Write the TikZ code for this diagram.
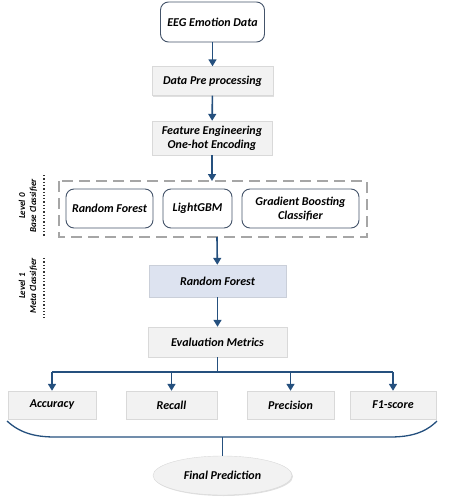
\documentclass[tikz,border=0pt]{standalone}
\usepackage{fontspec}
\setmainfont{Carlito}
\usepackage{tikz}
\usetikzlibrary{arrows.meta,shapes.geometric,shadows}

\definecolor{arrowblue}{HTML}{25507E}
\definecolor{boxgray}{HTML}{F2F2F2}
\definecolor{edgegray}{HTML}{D9D9D9}
\definecolor{metablue}{HTML}{DDE3F0}
\definecolor{roundedge}{HTML}{44546A}

\tikzset{
  flowarrow/.style={draw=arrowblue, line width=1.6pt, -{Triangle[width=8pt,length=7pt]}},
  flowline/.style={draw=arrowblue, line width=1.6pt},
  graybox/.style={draw=edgegray, fill=boxgray, thin, align=center,
    font=\bfseries\itshape\fontsize{12}{14}\selectfont,
    drop shadow={shadow xshift=1pt, shadow yshift=-1pt, opacity=0.25}},
  roundbox/.style={draw=roundedge, fill=white, line width=0.9pt, rounded corners=8pt,
    align=center, font=\bfseries\itshape\fontsize{12}{14}\selectfont},
  levellabel/.style={rotate=90, align=center, font=\bfseries\itshape\fontsize{9}{11}\selectfont}
}

\begin{document}
\begin{tikzpicture}[x=1pt, y=-1pt]
  \useasboundingbox (0,0) rectangle (474,501);

  % main pipeline
  \node[roundbox, minimum width=104pt, minimum height=40pt] (data) at (212.5,22) {EEG Emotion Data};
  \node[graybox, minimum width=121pt, minimum height=29pt] (pre) at (212.5,81) {Data Pre processing};
  \node[graybox, minimum width=120pt, minimum height=34pt] (feat) at (212,138) {Feature Engineering\\One-hot Encoding};

  % level 0 base classifiers
  \draw[gray!70, line width=1.4pt, dash pattern=on 11pt off 6pt] (59,181) rectangle (367,237);
  \coordinate (basetop) at (212,181);
  \coordinate (basebot) at (217,237);
  \node[roundbox, minimum width=87pt, minimum height=39pt] (rfbase) at (109.5,208.5) {Random Forest};
  \node[roundbox, minimum width=69pt, minimum height=39pt] (lgbm) at (197.5,208.5) {LightGBM};
  \node[roundbox, minimum width=117pt, minimum height=39pt] (gbc) at (300.5,208.5) {Gradient Boosting\\Classifier};

  % level 1 meta classifier
  \node[graybox, fill=metablue, draw=metablue!80!gray, minimum width=137pt, minimum height=32pt] (meta) at (217.5,281) {Random Forest};
  \node[graybox, minimum width=139pt, minimum height=30pt] (eval) at (217.5,342) {Evaluation Metrics};

  % metrics
  \node[graybox, minimum width=88pt, minimum height=28pt] (acc) at (52,405) {Accuracy};
  \node[graybox, minimum width=91pt, minimum height=28pt] (rec) at (171.5,405) {Recall};
  \node[graybox, minimum width=87pt, minimum height=28pt] (prec) at (290.5,405) {Precision};
  \node[graybox, minimum width=86pt, minimum height=28pt] (fone) at (393,405) {F1-score};

  \node[ellipse, draw=edgegray, fill=boxgray, minimum width=139pt, minimum height=39pt,
    font=\bfseries\itshape\fontsize{12}{14}\selectfont,
    drop shadow={shadow xshift=1pt, shadow yshift=-1pt, opacity=0.25}] (final) at (222.5,475.5) {Final Prediction};

  % arrows
  \draw[flowarrow] (data) -- (pre);
  \draw[flowarrow] (pre) -- (feat);
  \draw[flowarrow] (feat) -- (basetop);
  \draw[flowarrow] (basebot) -- (meta);
  \draw[flowarrow] (meta) -- (eval);

  % branch to metrics
  \coordinate (split) at (217.5,372);
  \draw[flowline] (eval) -- (split);
  \draw[flowline] (52,372) -- (393,372);
  \draw[flowarrow] (52,372) -- (acc);
  \draw[flowarrow] (171.5,372) -- (rec);
  \draw[flowarrow] (290.5,372) -- (prec);
  \draw[flowarrow] (393,372) -- (fone);

  % brace to final prediction
  \coordinate (bracemid) at (222.5,437);
  \draw[arrowblue, line width=1.3pt] (7,421) .. controls (20,433) and (35,437) .. (55,437) -- (390,437)
    .. controls (410,437) and (425,433) .. (437,421);
  \draw[arrowblue, line width=1.3pt] (bracemid) -- (final);

  % level labels
  \node[levellabel] (lvlzero) at (28,206) {Level 0\\Base Classifier};
  \draw[black!80, line width=1.3pt, dotted] (44,175) -- (44,237);
  \node[levellabel] (lvlone) at (28,286) {Level 1\\Meta Classifier};
  \draw[black!80, line width=1.3pt, dotted] (44,258) -- (44,318);
\end{tikzpicture}
\end{document}
